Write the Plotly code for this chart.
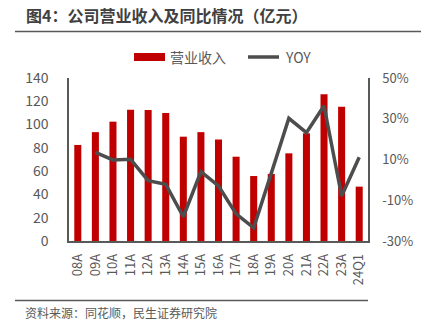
import plotly.graph_objects as go

# Revenue (亿元) and year-over-year growth
categories = ["08A", "09A", "10A", "11A", "12A", "13A", "14A", "15A", "16A",
              "17A", "18A", "19A", "20A", "21A", "22A", "23A", "24Q1"]
revenue = [82.5, 93.5, 102.5, 112.8, 112.5, 110.0, 89.6, 93.5, 87.2,
           72.4, 55.8, 57.6, 75.3, 92.5, 126.0, 115.4, 46.7]
yoy = [None, 0.135, 0.098, 0.101, -0.004, -0.022, -0.181, 0.04, -0.03,
       -0.167, -0.235, 0.032, 0.302, 0.232, 0.364, -0.079, 0.111]

left_ticks = [0, 20, 40, 60, 80, 100, 120, 140]
right_ticks = [-0.3, -0.1, 0.1, 0.3, 0.5]
right_tick_text = ["-30%", "-10%", "10%", "30%", "50%"]

RED = "#C00000"
GRAY = "#595959"
LINE_GRAY = "#4D4D4D"
FONT = "Noto Sans CJK SC"

W, H = 428, 324
L, R, T, B = 69, 60, 78, 83
pw, ph = W - L - R, H - T - B


def px(x):
    return (x - L) / pw


def py(y):
    return (H - B - y) / ph


fig = go.Figure()
fig.add_trace(go.Bar(x=categories, y=revenue, name="营业收入",
                     marker=dict(color=RED, line=dict(width=0)),
                     showlegend=False))
fig.add_trace(go.Scatter(x=categories, y=yoy, name="YOY", yaxis="y2",
                         mode="lines", line=dict(color=LINE_GRAY, width=3.5),
                         showlegend=False))

shapes = [
    # title rule and footer rule
    dict(type="line", xref="paper", yref="paper", x0=px(15), x1=px(421),
         y0=py(31.5), y1=py(31.5), line=dict(color=GRAY, width=1.5)),
    dict(type="line", xref="paper", yref="paper", x0=px(15), x1=px(368),
         y0=py(300.5), y1=py(300.5), line=dict(color=GRAY, width=1.5)),
    # legend swatches
    dict(type="rect", xref="paper", yref="paper", x0=px(134), x1=px(165),
         y0=py(53), y1=py(61), fillcolor=RED, line=dict(width=0)),
    dict(type="line", xref="paper", yref="paper", x0=px(248), x1=px(279),
         y0=py(57), y1=py(57), line=dict(color=LINE_GRAY, width=3.5)),
]

annotations = [
    dict(text="<b>图4：公司营业收入及同比情况（亿元）</b>", xref="paper", yref="paper",
         x=px(24), y=py(15), xanchor="left", yanchor="middle", showarrow=False,
         font=dict(family=FONT, size=16, color="#404040")),
    dict(text="资料来源：同花顺，民生证券研究院", xref="paper", yref="paper",
         x=px(23), y=py(312), xanchor="left", yanchor="middle", showarrow=False,
         font=dict(family=FONT, size=12, color=GRAY)),
    dict(text="营业收入", xref="paper", yref="paper",
         x=px(168), y=py(57), xanchor="left", yanchor="middle", showarrow=False,
         font=dict(family=FONT, size=14, color=GRAY)),
    dict(text="YOY", xref="paper", yref="paper",
         x=px(283), y=py(57), xanchor="left", yanchor="middle", showarrow=False,
         font=dict(family=FONT, size=14, color=GRAY)),
]

fig.update_layout(
    width=W, height=H,
    margin=dict(l=L, r=R, t=T, b=B, pad=0),
    paper_bgcolor="white", plot_bgcolor="white",
    font=dict(family=FONT, color=GRAY),
    bargap=0.6,
    shapes=shapes,
    annotations=annotations,
    xaxis=dict(type="category", tickangle=-90, showgrid=False,
               showline=True, linecolor=GRAY, linewidth=1.5,
               ticks="", tickfont=dict(size=13, color=GRAY),
               ticklabelstandoff=6),
    yaxis=dict(range=[0, 140], tickvals=left_ticks, showgrid=False,
               showline=True, linecolor=GRAY, linewidth=1.5, ticks="",
               tickfont=dict(size=14, color=GRAY), ticklabelstandoff=16,
               zeroline=False),
    yaxis2=dict(range=[-0.3, 0.5], overlaying="y", side="right",
                tickvals=right_ticks, ticktext=right_tick_text,
                showgrid=False, showline=True, linecolor=GRAY, linewidth=1.5,
                ticks="", tickfont=dict(size=13, color=GRAY),
                ticklabelstandoff=10, zeroline=False),
)

fig.write_html("out.html")
